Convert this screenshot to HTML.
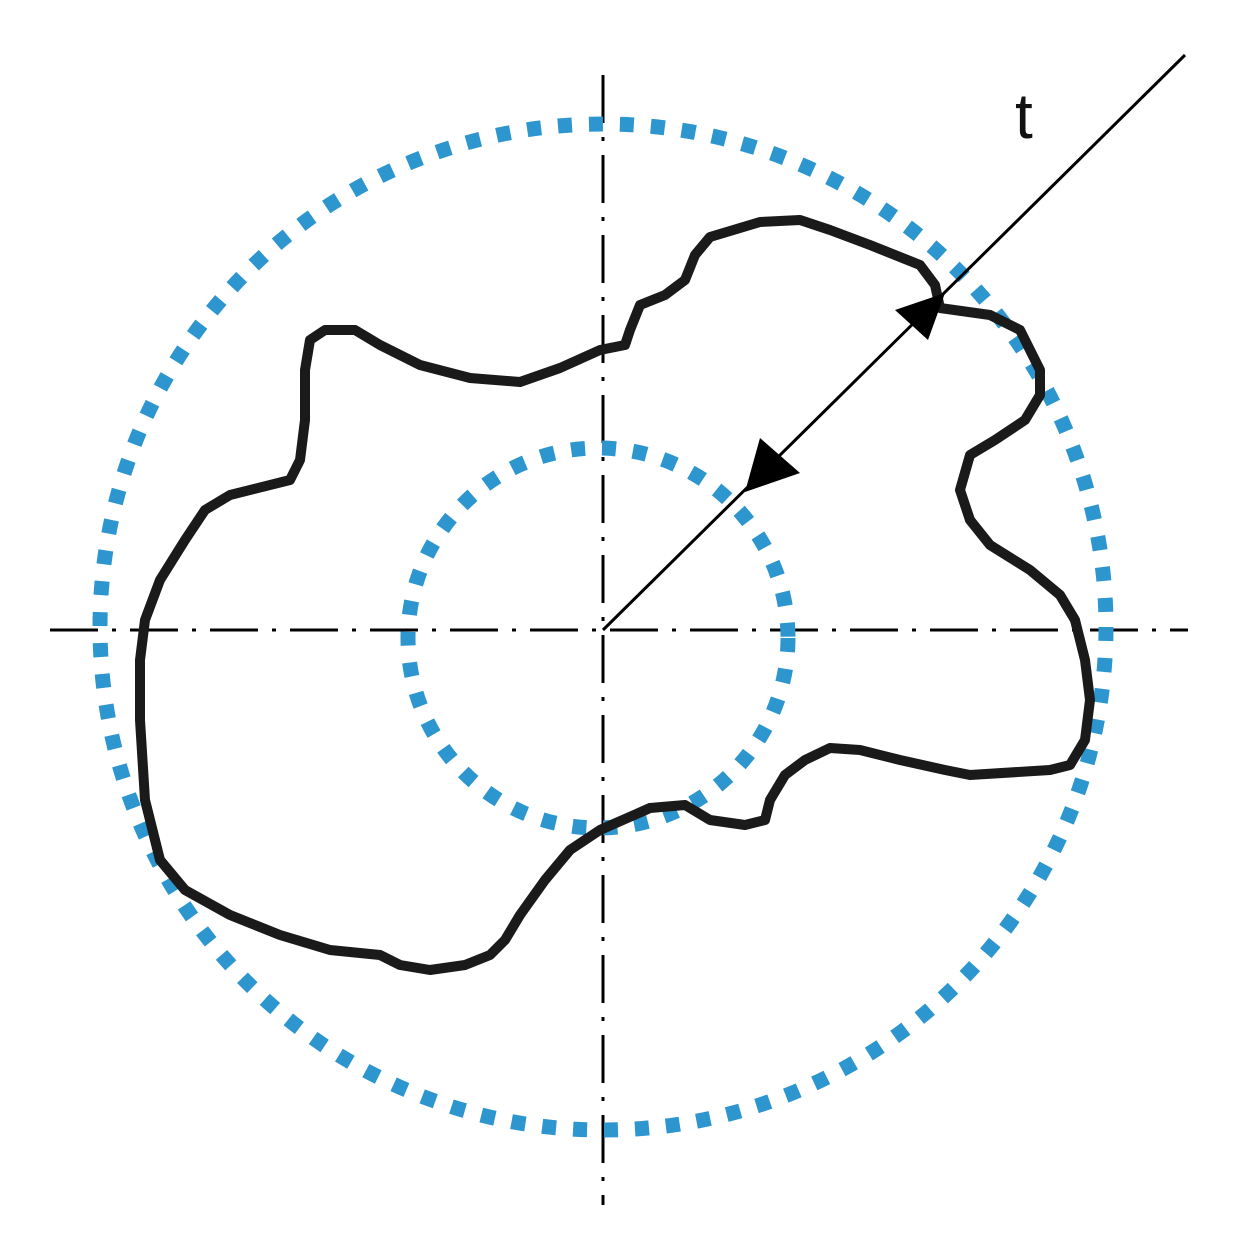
<!DOCTYPE html>
<html><head><meta charset="utf-8"><style>html,body{margin:0;padding:0;background:#fff}</style></head>
<body>
<svg width="1236" height="1251" viewBox="0 0 1236 1251" xmlns="http://www.w3.org/2000/svg">
<rect width="1236" height="1251" fill="#fff"/>
<g stroke="#000" stroke-width="3" fill="none" stroke-dasharray="48 14 4 14">
<line x1="50" y1="630" x2="1188" y2="630"/>
<line x1="603" y1="75" x2="603" y2="1205"/>
</g>
<g fill="none" stroke="#2e96cf" stroke-width="15" stroke-dasharray="14 17">
<circle cx="603" cy="627" r="503"/>
<circle cx="598" cy="638" r="190"/>
</g>
<path d="M600,350 L625,345 630,330 640,305 665,295 685,280 695,255 710,237 760,222 800,220 830,230 870,245 920,265 935,285 940,308 990,315 1020,330 1040,370 1040,395 1025,420 995,440 970,455 960,490 970,520 990,545 1030,570 1060,595 1075,620 1085,660 1090,700 1085,740 1070,765 1050,770 970,775 945,770 900,760 860,750 830,748 805,760 785,775 770,800 765,820 745,825 710,820 685,805 650,808 600,830 570,850 545,880 520,915 505,940 490,955 465,965 430,970 400,965 380,955 330,950 280,935 230,915 185,890 160,860 145,800 140,720 140,660 145,620 160,580 185,540 205,510 230,495 290,480 300,460 305,420 305,370 310,340 325,330 355,330 380,345 420,365 470,378 520,382 560,368 Z" fill="none" stroke="#1a1a1a" stroke-width="10" stroke-linejoin="round"/>
<line x1="603" y1="630" x2="1185" y2="55" stroke="#000" stroke-width="3"/>
<polygon points="945,293 895,310 928,340" fill="#000"/>
<polygon points="745,492 760,438 800,473" fill="#000"/>
<text x="1015" y="138" font-family="Liberation Sans, sans-serif" font-size="64" fill="#111">t</text>
</svg>
</body></html>
